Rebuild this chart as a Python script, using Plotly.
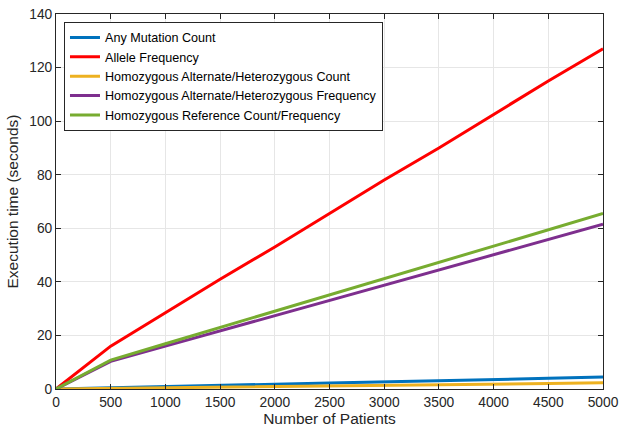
import plotly.graph_objects as go

patients = [0, 500, 1000, 1500, 2000, 2500, 3000, 3500, 4000, 4500, 5000]
any_mutation_count = [0, 0.5, 0.9, 1.3, 1.8, 2.2, 2.6, 3.1, 3.5, 4.0, 4.5]
allele_frequency = [0, 16.0, 28.5, 41.0, 53.0, 65.5, 78.0, 90.0, 102.5, 115.0, 127.0]
homalt_het_count = [0, 0.2, 0.45, 0.7, 0.9, 1.1, 1.35, 1.6, 1.8, 2.05, 2.3]
homalt_het_freq = [0, 10.3, 16.0, 21.7, 27.4, 33.1, 38.8, 44.5, 50.2, 55.8, 61.5]
homref_count_freq = [0, 10.8, 16.9, 23.0, 29.0, 35.1, 41.2, 47.3, 53.4, 59.4, 65.5]

series = [
    ("Any Mutation Count", any_mutation_count, "#0072BD"),
    ("Allele Frequency", allele_frequency, "#FF0000"),
    ("Homozygous Alternate/Heterozygous Count", homalt_het_count, "#EDB120"),
    ("Homozygous Alternate/Heterozygous Frequency", homalt_het_freq, "#7E2F8E"),
    ("Homozygous Reference Count/Frequency", homref_count_freq, "#77AC30"),
]

FONT = "Liberation Sans, Arial, sans-serif"

fig = go.Figure()
for name, ys, color in series:
    fig.add_trace(go.Scatter(x=patients, y=ys, mode="lines", name=name,
                             line=dict(color=color, width=3)))

axis_common = dict(
    showline=True, linecolor="#262626", linewidth=1, mirror="ticks",
    ticks="inside", ticklen=5, tickcolor="#262626",
    showgrid=True, gridcolor="#e6e6e6", gridwidth=1,
    zeroline=False, automargin=False,
    tickfont=dict(family=FONT, size=13.8, color="#262626"),
)

fig.update_layout(
    width=621, height=433,
    margin=dict(l=56, r=18, t=14, b=44),
    paper_bgcolor="white", plot_bgcolor="white",
    font=dict(family=FONT, color="#262626"),
    xaxis=dict(range=[0, 5000], dtick=500,
               title=dict(text="Number of Patients", font=dict(size=15.5), standoff=2),
               **axis_common),
    yaxis=dict(range=[0, 140], dtick=20,
               title=dict(text="Execution time (seconds)", font=dict(size=15.5), standoff=6),
               **axis_common),
    legend=dict(x=0.0146, y=0.9795, xanchor="left", yanchor="top",
                bordercolor="#262626", borderwidth=1, bgcolor="white",
                font=dict(family=FONT, size=12.6, color="#000000"),
                tracegroupgap=0, itemwidth=30),
    showlegend=True,
)

fig.write_html("out.html",
               config={"displayModeBar": False},
               post_script="document.body.style.margin='0';document.body.style.overflow='hidden';")
